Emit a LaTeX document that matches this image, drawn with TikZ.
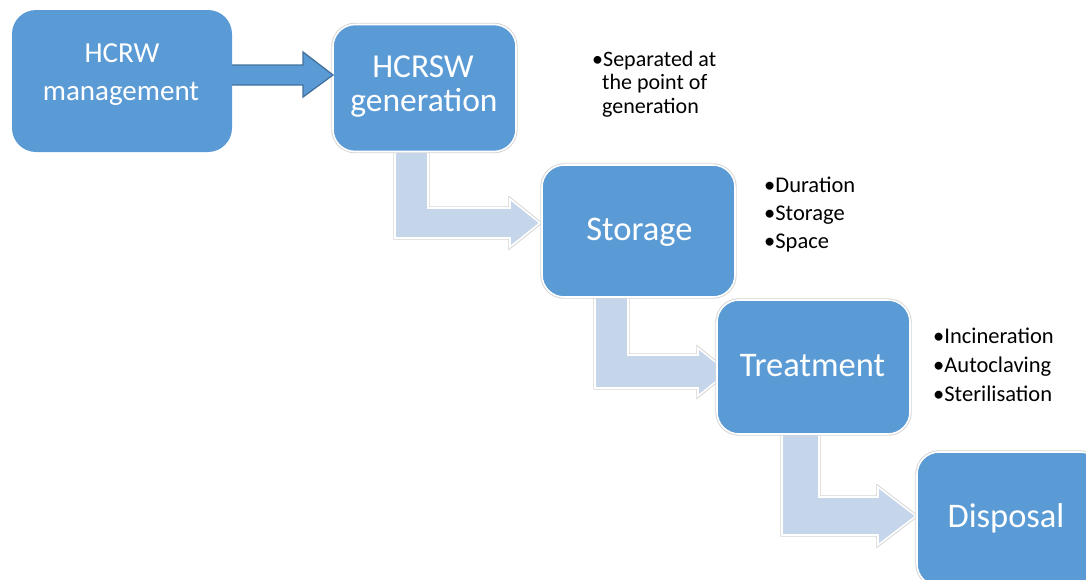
\documentclass[tikz,border=0pt]{standalone}
\usepackage{fontspec}
\setmainfont{Carlito}
\definecolor{boxblue}{HTML}{5B9BD5}
\definecolor{boxedge}{HTML}{41719C}
\definecolor{lightarrow}{HTML}{C5D5EA}
\definecolor{outgray}{HTML}{D4D4D4}
\begin{document}
\begin{tikzpicture}[x=1pt,y=-1pt,
  outl/.style={preaction={draw=outgray,line width=3.4pt}, draw=white, line width=1.6pt},
  plainbox/.style={rectangle, rounded corners=24pt, fill=boxblue, inner sep=0pt, outer sep=0pt},
  boxo/.style={plainbox, outl},
  bigarrow/.style={fill=boxblue, draw=boxedge, line width=1.3pt, line join=miter},
  bentarrow/.style={fill=lightarrow, outl, line join=miter},
  lbl/.style={text=white, inner sep=0pt, anchor=base},
  item/.style={inner sep=0pt, anchor=base west, font=\fontsize{22.5}{26}\selectfont}
]
\useasboundingbox (0,0) rectangle (1086,579);
\clip (0,0) rectangle (1086,579);

% bent arrows (drawn below the boxes)
\draw[bentarrow] (395,148) -- (395,238) -- (510,238) -- (510,247) -- (540,223) -- (510,199) -- (510,208) -- (428,208) -- (428,148) -- cycle;
\draw[bentarrow] (595,293) -- (595,388) -- (698,388) -- (698,396) -- (728,372) -- (698,348) -- (698,355) -- (628,355) -- (628,293) -- cycle;
\draw[bentarrow] (782,430) -- (782,535) -- (878,535) -- (878,545) -- (916,516) -- (878,487) -- (878,497) -- (819,497) -- (819,430) -- cycle;

% boxes
\node[plainbox, minimum width=220pt, minimum height=142pt] (mgmt) at (122,81) {};
\node[boxo, rounded corners=22pt, minimum width=183pt, minimum height=127pt] (gen) at (424.5,88) {};
\node[boxo, rounded corners=22pt, minimum width=193pt, minimum height=132pt] (stor) at (638.5,231) {};
\node[boxo, rounded corners=22pt, minimum width=193pt, minimum height=134pt] (treat) at (813.5,367) {};
\node[boxo, rounded corners=22pt, minimum width=185pt, minimum height=134pt] (disp) at (1009.5,519) {};

% straight block arrow
\draw[bigarrow] (mgmt.east |- 0,65) -- (303,65) -- (303,52) -- (gen.west |- 0,75) -- (303,97) -- (303,85) -- (mgmt.east |- 0,85);

% box labels
\node[lbl, font=\fontsize{29}{30}\selectfont] (t1a) at (122,62) {HCRW};
\node[lbl, font=\fontsize{29}{30}\selectfont] (t1b) at (121,100) {management};
\node[lbl, font=\fontsize{33.5}{34}\selectfont] (t2a) at (423,77) {HCRSW};
\node[lbl, font=\fontsize{33.5}{34}\selectfont] (t2b) at (424,111) {generation};
\node[lbl, font=\fontsize{34.5}{35}\selectfont] (t3) at (639.5,240) {Storage};
\node[lbl, font=\fontsize{34.5}{35}\selectfont] (t4) at (812.5,376) {Treatment};
\node[lbl, font=\fontsize{34.5}{35}\selectfont] (t5) at (1006,527) {Disposal};

% side notes
\node[item, font=\fontsize{22}{26}\selectfont] (s1) at (592,66) {•Separated at};
\node[item, font=\fontsize{22}{26}\selectfont] (s2) at (602,89.5) {the point of};
\node[item, font=\fontsize{22}{26}\selectfont] (s3) at (602,113) {generation};

\node[item] (d1) at (764,192) {•Duration};
\node[item] (d2) at (764,220) {•Storage};
\node[item] (d3) at (764,248) {•Space};

\node[item] (r1) at (933,343) {•Incineration};
\node[item] (r2) at (933,372) {•Autoclaving};
\node[item] (r3) at (933,401) {•Sterilisation};
\end{tikzpicture}
\end{document}
